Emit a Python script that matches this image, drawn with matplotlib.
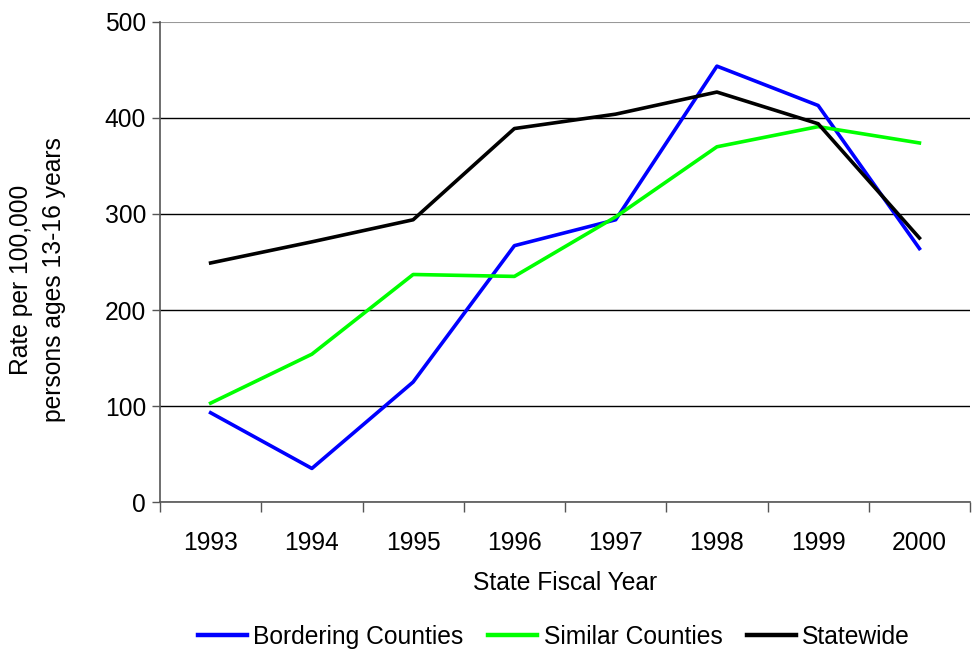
import numpy as np
import matplotlib
matplotlib.use("Agg")
import matplotlib.pyplot as plt

plt.rcParams['font.family'] = ['Liberation Sans', 'DejaVu Sans']

years = ["1993", "1994", "1995", "1996", "1997", "1998", "1999", "2000"]
bordering = [93, 35, 125, 267, 294, 454, 413, 264]
similar = [103, 154, 237, 235, 297, 370, 391, 374]
statewide = [249, 271, 294, 389, 404, 427, 394, 275]

fig = plt.figure(figsize=(9.72, 6.52), dpi=100)
ax = fig.add_axes([0.1646, 0.230, 0.8334, 0.7363])

x = np.arange(len(years))
ax.plot(x, bordering, color="#0000ff", lw=2.6, label="Bordering Counties")
ax.plot(x, similar, color="#00ff00", lw=2.6, label="Similar Counties")
ax.plot(x, statewide, color="#000000", lw=2.6, label="Statewide")

ax.set_xlim(-0.5, len(years) - 0.5)
ax.set_ylim(0, 500)
ax.set_yticks([0, 100, 200, 300, 400, 500])
ax.set_xticks(x)
ax.set_xticklabels(years)
ax.set_xticks(np.arange(-0.5, len(years)), minor=True)
ax.tick_params(axis="x", which="major", length=0, pad=21, labelsize=17.7)
ax.tick_params(axis="x", which="minor", length=7, width=1, color="#555555")
ax.tick_params(axis="y", length=6, width=1, color="#555555", labelsize=17.7, pad=4)

ax.grid(axis="y", color="black", lw=1)
ax.set_axisbelow(True)
for s in ["top", "right"]:
    ax.spines[s].set_visible(False)
ax.spines["left"].set_color("#555555")
ax.spines["left"].set_linewidth(1.2)
ax.spines["bottom"].set_color("#555555")
ax.spines["bottom"].set_linewidth(1.2)
ax.get_ygridlines()[-1].set_color("#999999")
ax.get_ygridlines()[-1].set_linewidth(1.5)

ax.set_xlabel("State Fiscal Year", fontsize=17.7)
ax.xaxis.set_label_coords(0.5, -0.143)
ax.set_ylabel("Rate per 100,000\npersons ages 13-16 years", fontsize=17.7, linespacing=1.5)
ax.yaxis.set_label_coords(-0.151, 0.4625)
ax.yaxis.label.set_va("center")

leg = fig.legend(loc="center", bbox_to_anchor=(0.57, 0.023), ncol=3, frameon=False,
                 fontsize=17.7, handlelength=2.0, columnspacing=1.0, handletextpad=0.25)
for h in leg.get_lines():
    h.set_linewidth(3.2)

fig.savefig("out.png", dpi=100)
